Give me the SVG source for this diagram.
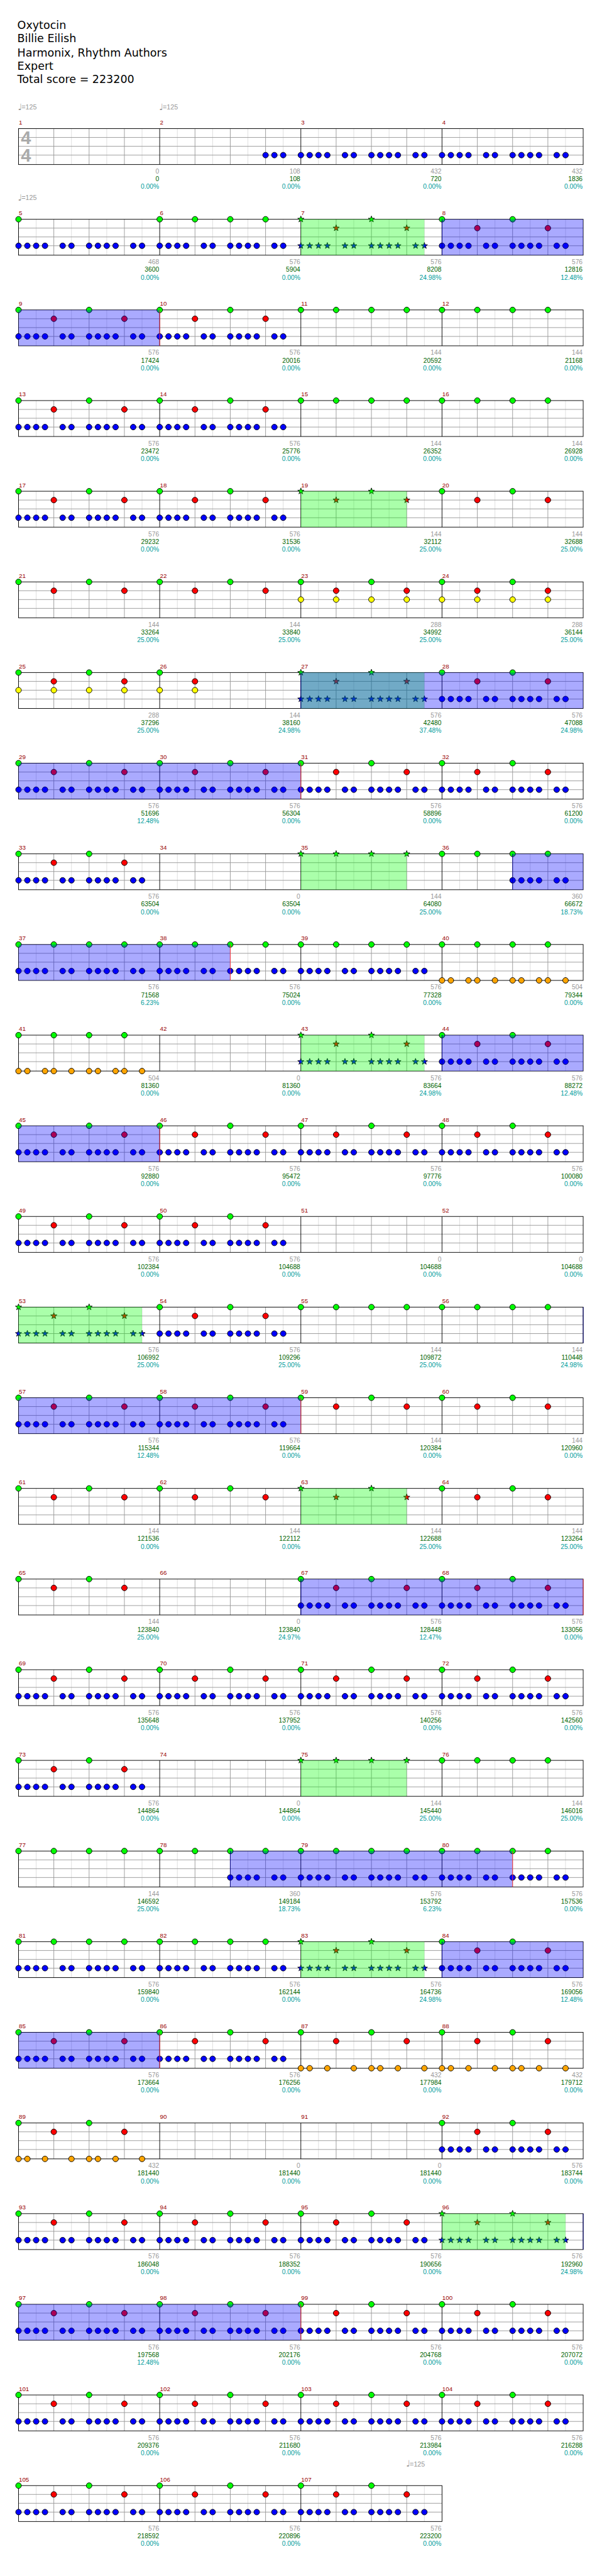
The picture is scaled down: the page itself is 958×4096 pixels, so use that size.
<svg xmlns="http://www.w3.org/2000/svg" width="958" height="4096" viewBox="0 0 958 4096">
<style>
.t{font-family:"DejaVu Sans",sans-serif;font-size:18.7px;fill:#000}
.mn{font-family:"Liberation Sans",Arial,sans-serif;font-size:10.5px;fill:#990000}
.l text{font-family:"Liberation Sans",Arial,sans-serif;font-size:11px;text-anchor:end}
.lg{fill:#999}.lc{fill:#006400}.lp{fill:#009c9c}
.tp{font-family:"Liberation Sans",Arial,sans-serif;font-size:11.5px;fill:#999}
.tn{font-family:"DejaVu Sans",sans-serif;font-size:15px;fill:#999}
.ts{font-family:"Liberation Sans",Arial,sans-serif;font-size:31px;font-weight:bold;fill:#aaa}
.sp{fill:#00ff00;fill-opacity:.333}
.so{fill:#0000ff;fill-opacity:.333}
.ms{stroke:#000080;fill:none}.me{stroke:#ff3030;fill:none}
</style>
<defs>
<circle id="n" r="4.8" stroke="#000" stroke-width="1"/>
<path id="s" stroke="#000" stroke-width=".9" d="M0-5.6L1.32-1.81 5.33-1.73 2.13.69 3.29 4.53 0 2.24-3.29 4.53-2.13.69-5.33-1.73-1.32-1.81Z"/>
<g id="st4" fill="none">
<path stroke="#ddd" d="M30 0v61M90 0v61M150 0v61M210 0v61M270 0v61M330 0v61M390 0v61M450 0v61M510 0v61M570 0v61M630 0v61M690 0v61M750 0v61M810 0v61M870 0v61M930 0v61"/>
<path stroke="#999" d="M0 15H960M0 30H960M0 45H960M60 0v61M120 0v61M180 0v61M300 0v61M360 0v61M420 0v61M540 0v61M600 0v61M660 0v61M780 0v61M840 0v61M900 0v61"/>
<path stroke="#000" d="M240 0v61M480 0v61M720 0v61"/>
<rect width="960" height="61" stroke="#000"/>
</g>
<g id="st3" fill="none">
<path stroke="#ddd" d="M30 0v61M90 0v61M150 0v61M210 0v61M270 0v61M330 0v61M390 0v61M450 0v61M510 0v61M570 0v61M630 0v61M690 0v61"/>
<path stroke="#999" d="M0 15H720M0 30H720M0 45H720M60 0v61M120 0v61M180 0v61M300 0v61M360 0v61M420 0v61M540 0v61M600 0v61M660 0v61"/>
<path stroke="#000" d="M240 0v61M480 0v61"/>
<rect width="720" height="61" stroke="#000"/>
</g>
<g id="bp" fill="#00f"><use href="#n" y="45"/><use href="#n" x="15" y="45"/><use href="#n" x="30" y="45"/><use href="#n" x="45" y="45"/><use href="#n" x="75" y="45"/><use href="#n" x="90" y="45"/><use href="#n" x="120" y="45"/><use href="#n" x="135" y="45"/><use href="#n" x="150" y="45"/><use href="#n" x="165" y="45"/><use href="#n" x="195" y="45"/><use href="#n" x="210" y="45"/></g>
<g id="b3" fill="#00f"><use href="#n" x="180" y="45"/><use href="#n" x="195" y="45"/><use href="#n" x="210" y="45"/></g>
<g id="bh" fill="#00f"><use href="#n" x="120" y="45"/><use href="#n" x="135" y="45"/><use href="#n" x="150" y="45"/><use href="#n" x="165" y="45"/><use href="#n" x="195" y="45"/><use href="#n" x="210" y="45"/></g>
<g id="gr"><g fill="#0f0"><use href="#n"/><use href="#n" x="120"/></g><g fill="#f00"><use href="#n" x="60" y="15"/><use href="#n" x="180" y="15"/></g></g>
<g id="gq" fill="#0f0"><use href="#n"/><use href="#n" x="60"/><use href="#n" x="120"/><use href="#n" x="180"/></g>
<g id="yq" fill="#ff0"><use href="#n" y="30"/><use href="#n" x="60" y="30"/><use href="#n" x="120" y="30"/><use href="#n" x="180" y="30"/></g>
<g id="o1" fill="#ffa500"><use href="#n" y="61"/><use href="#n" x="15" y="61"/><use href="#n" x="45" y="61"/><use href="#n" x="60" y="61"/><use href="#n" x="90" y="61"/><use href="#n" x="120" y="61"/><use href="#n" x="135" y="61"/><use href="#n" x="165" y="61"/><use href="#n" x="180" y="61"/><use href="#n" x="210" y="61"/></g>
<g id="o2" fill="#ffa500"><use href="#n" y="61"/><use href="#n" x="15" y="61"/><use href="#n" x="45" y="61"/><use href="#n" x="90" y="61"/><use href="#n" x="120" y="61"/><use href="#n" x="135" y="61"/><use href="#n" x="165" y="61"/><use href="#n" x="210" y="61"/></g>
<g id="sbp" fill="#00f"><use href="#s" y="45"/><use href="#s" x="15" y="45"/><use href="#s" x="30" y="45"/><use href="#s" x="45" y="45"/><use href="#s" x="75" y="45"/><use href="#s" x="90" y="45"/><use href="#s" x="120" y="45"/><use href="#s" x="135" y="45"/><use href="#s" x="150" y="45"/><use href="#s" x="165" y="45"/><use href="#s" x="195" y="45"/><use href="#s" x="210" y="45"/></g>
<g id="sgr"><g fill="#0f0"><use href="#s"/><use href="#s" x="120"/></g><g fill="#f00"><use href="#s" x="60" y="15"/><use href="#s" x="180" y="15"/></g></g>
<g id="sgq" fill="#0f0"><use href="#s"/><use href="#s" x="60"/><use href="#s" x="120"/><use href="#s" x="180"/></g>
</defs>
<rect width="958" height="4096" fill="#fff"/>
<g transform="scale(0.936)">
<g id="header">
<text class="t" x="29.5" y="49.3">Oxytocin</text>
<text class="t" x="29.5" y="72">Billie Eilish</text>
<text class="t" x="29.5" y="95.7">Harmonix, Rhythm Authors</text>
<text class="t" x="29.5" y="118.3">Expert</text>
<text class="t" x="29.5" y="141.3">Total score = 223200</text>
</g>

<g id="row1" transform="translate(31.5 218.5)">
<use href="#st4"/>
<text class="ts" x="4" y="26.5">4</text><text class="ts" x="4" y="56.5">4</text>
<use href="#b3" x="240"/><use href="#bp" x="480"/><use href="#bp" x="720"/>
<text class="tn" x="-1" y="-32">♩</text><text class="tp" x="5.2" y="-32.5">=125</text>
<text class="tn" x="239" y="-32">♩</text><text class="tp" x="245.2" y="-32.5">=125</text>
<text class="mn" x="0.5" y="-7">1</text><text class="mn" x="240.5" y="-7">2</text><text class="mn" x="480.5" y="-7">3</text><text class="mn" x="720.5" y="-7">4</text>
<g class="l">
<text class="lg" x="239" y="76.5">0</text><text class="lc" x="239" y="89.5">0</text><text class="lp" x="239" y="102.5">0.00%</text>
<text class="lg" x="479" y="76.5">108</text><text class="lc" x="479" y="89.5">108</text><text class="lp" x="479" y="102.5">0.00%</text>
<text class="lg" x="719" y="76.5">432</text><text class="lc" x="719" y="89.5">720</text><text class="lp" x="719" y="102.5">0.00%</text>
<text class="lg" x="959" y="76.5">432</text><text class="lc" x="959" y="89.5">1836</text><text class="lp" x="959" y="102.5">0.00%</text>
</g>
</g>

<g id="row2" transform="translate(31.5 372.5)">
<use href="#st4"/>
<use href="#n" fill="#0f0"/><use href="#bp"/>
<use href="#gq" x="240"/><use href="#bp" x="240"/>
<use href="#sgr" x="480"/><use href="#sbp" x="480"/>
<use href="#gr" x="720"/><use href="#bp" x="720"/>
<rect class="sp" x="480" width="210" height="61"/>
<rect class="so" x="720" width="240" height="61"/>
<path class="ms" d="M720 0v61"/>
<text class="tn" x="-1" y="-32">♩</text><text class="tp" x="5.2" y="-32.5">=125</text>
<text class="mn" x="0.5" y="-7">5</text><text class="mn" x="240.5" y="-7">6</text><text class="mn" x="480.5" y="-7">7</text><text class="mn" x="720.5" y="-7">8</text>
<g class="l">
<text class="lg" x="239" y="76.5">468</text><text class="lc" x="239" y="89.5">3600</text><text class="lp" x="239" y="102.5">0.00%</text>
<text class="lg" x="479" y="76.5">576</text><text class="lc" x="479" y="89.5">5904</text><text class="lp" x="479" y="102.5">0.00%</text>
<text class="lg" x="719" y="76.5">576</text><text class="lc" x="719" y="89.5">8208</text><text class="lp" x="719" y="102.5">24.98%</text>
<text class="lg" x="959" y="76.5">576</text><text class="lc" x="959" y="89.5">12816</text><text class="lp" x="959" y="102.5">12.48%</text>
</g>
</g>

<g id="row3" transform="translate(31.5 526.5)">
<use href="#st4"/>
<use href="#gr"/><use href="#bp"/>
<use href="#gr" x="240"/><use href="#bp" x="240"/>
<use href="#gq" x="480"/><use href="#gq" x="720"/>
<rect class="so" width="240" height="61"/>
<path class="me" d="M240 0v61"/>
<text class="mn" x="0.5" y="-7">9</text><text class="mn" x="240.5" y="-7">10</text><text class="mn" x="480.5" y="-7">11</text><text class="mn" x="720.5" y="-7">12</text>
<g class="l">
<text class="lg" x="239" y="76.5">576</text><text class="lc" x="239" y="89.5">17424</text><text class="lp" x="239" y="102.5">0.00%</text>
<text class="lg" x="479" y="76.5">576</text><text class="lc" x="479" y="89.5">20016</text><text class="lp" x="479" y="102.5">0.00%</text>
<text class="lg" x="719" y="76.5">144</text><text class="lc" x="719" y="89.5">20592</text><text class="lp" x="719" y="102.5">0.00%</text>
<text class="lg" x="959" y="76.5">144</text><text class="lc" x="959" y="89.5">21168</text><text class="lp" x="959" y="102.5">0.00%</text>
</g>
</g>

<g id="row4" transform="translate(31.5 680.5)">
<use href="#st4"/>
<use href="#gr"/><use href="#bp"/>
<use href="#gr" x="240"/><use href="#bp" x="240"/>
<use href="#gq" x="480"/><use href="#gq" x="720"/>
<text class="mn" x="0.5" y="-7">13</text><text class="mn" x="240.5" y="-7">14</text><text class="mn" x="480.5" y="-7">15</text><text class="mn" x="720.5" y="-7">16</text>
<g class="l">
<text class="lg" x="239" y="76.5">576</text><text class="lc" x="239" y="89.5">23472</text><text class="lp" x="239" y="102.5">0.00%</text>
<text class="lg" x="479" y="76.5">576</text><text class="lc" x="479" y="89.5">25776</text><text class="lp" x="479" y="102.5">0.00%</text>
<text class="lg" x="719" y="76.5">144</text><text class="lc" x="719" y="89.5">26352</text><text class="lp" x="719" y="102.5">0.00%</text>
<text class="lg" x="959" y="76.5">144</text><text class="lc" x="959" y="89.5">26928</text><text class="lp" x="959" y="102.5">0.00%</text>
</g>
</g>

<g id="row5" transform="translate(31.5 834.5)">
<use href="#st4"/>
<use href="#gr"/><use href="#bp"/>
<use href="#gr" x="240"/><use href="#bp" x="240"/>
<use href="#sgr" x="480"/>
<use href="#gr" x="720"/>
<rect class="sp" x="480" width="180" height="61"/>
<text class="mn" x="0.5" y="-7">17</text><text class="mn" x="240.5" y="-7">18</text><text class="mn" x="480.5" y="-7">19</text><text class="mn" x="720.5" y="-7">20</text>
<g class="l">
<text class="lg" x="239" y="76.5">576</text><text class="lc" x="239" y="89.5">29232</text><text class="lp" x="239" y="102.5">0.00%</text>
<text class="lg" x="479" y="76.5">576</text><text class="lc" x="479" y="89.5">31536</text><text class="lp" x="479" y="102.5">0.00%</text>
<text class="lg" x="719" y="76.5">144</text><text class="lc" x="719" y="89.5">32112</text><text class="lp" x="719" y="102.5">25.00%</text>
<text class="lg" x="959" y="76.5">144</text><text class="lc" x="959" y="89.5">32688</text><text class="lp" x="959" y="102.5">25.00%</text>
</g>
</g>

<g id="row6" transform="translate(31.5 988.5)">
<use href="#st4"/>
<use href="#gr"/><use href="#gr" x="240"/>
<use href="#gr" x="480"/><use href="#yq" x="480"/>
<use href="#gr" x="720"/><use href="#yq" x="720"/>
<text class="mn" x="0.5" y="-7">21</text><text class="mn" x="240.5" y="-7">22</text><text class="mn" x="480.5" y="-7">23</text><text class="mn" x="720.5" y="-7">24</text>
<g class="l">
<text class="lg" x="239" y="76.5">144</text><text class="lc" x="239" y="89.5">33264</text><text class="lp" x="239" y="102.5">25.00%</text>
<text class="lg" x="479" y="76.5">144</text><text class="lc" x="479" y="89.5">33840</text><text class="lp" x="479" y="102.5">25.00%</text>
<text class="lg" x="719" y="76.5">288</text><text class="lc" x="719" y="89.5">34992</text><text class="lp" x="719" y="102.5">25.00%</text>
<text class="lg" x="959" y="76.5">288</text><text class="lc" x="959" y="89.5">36144</text><text class="lp" x="959" y="102.5">25.00%</text>
</g>
</g>

<g id="row7" transform="translate(31.5 1142.5)">
<use href="#st4"/>
<use href="#gr"/><use href="#yq"/>
<use href="#n" x="240" fill="#0f0"/><use href="#n" x="300" y="15" fill="#f00"/><use href="#n" x="240" y="30" fill="#ff0"/><use href="#n" x="300" y="30" fill="#ff0"/>
<use href="#sgr" x="480"/><use href="#sbp" x="480"/>
<use href="#gr" x="720"/><use href="#bp" x="720"/>
<rect class="sp" x="480" width="210" height="61"/>
<rect class="so" x="480" width="480" height="61"/>
<path class="ms" d="M480 0v61"/>
<text class="mn" x="0.5" y="-7">25</text><text class="mn" x="240.5" y="-7">26</text><text class="mn" x="480.5" y="-7">27</text><text class="mn" x="720.5" y="-7">28</text>
<g class="l">
<text class="lg" x="239" y="76.5">288</text><text class="lc" x="239" y="89.5">37296</text><text class="lp" x="239" y="102.5">25.00%</text>
<text class="lg" x="479" y="76.5">144</text><text class="lc" x="479" y="89.5">38160</text><text class="lp" x="479" y="102.5">24.98%</text>
<text class="lg" x="719" y="76.5">576</text><text class="lc" x="719" y="89.5">42480</text><text class="lp" x="719" y="102.5">37.48%</text>
<text class="lg" x="959" y="76.5">576</text><text class="lc" x="959" y="89.5">47088</text><text class="lp" x="959" y="102.5">24.98%</text>
</g>
</g>

<g id="row8" transform="translate(31.5 1296.5)">
<use href="#st4"/>
<use href="#gr"/><use href="#bp"/>
<use href="#gr" x="240"/><use href="#bp" x="240"/>
<use href="#gr" x="480"/><use href="#bp" x="480"/>
<use href="#gr" x="720"/><use href="#bp" x="720"/>
<rect class="so" width="480" height="61"/>
<path class="me" d="M480 0v61"/>
<text class="mn" x="0.5" y="-7">29</text><text class="mn" x="240.5" y="-7">30</text><text class="mn" x="480.5" y="-7">31</text><text class="mn" x="720.5" y="-7">32</text>
<g class="l">
<text class="lg" x="239" y="76.5">576</text><text class="lc" x="239" y="89.5">51696</text><text class="lp" x="239" y="102.5">12.48%</text>
<text class="lg" x="479" y="76.5">576</text><text class="lc" x="479" y="89.5">56304</text><text class="lp" x="479" y="102.5">0.00%</text>
<text class="lg" x="719" y="76.5">576</text><text class="lc" x="719" y="89.5">58896</text><text class="lp" x="719" y="102.5">0.00%</text>
<text class="lg" x="959" y="76.5">576</text><text class="lc" x="959" y="89.5">61200</text><text class="lp" x="959" y="102.5">0.00%</text>
</g>
</g>

<g id="row9" transform="translate(31.5 1450.5)">
<use href="#st4"/>
<use href="#gr"/><use href="#bp"/>
<use href="#sgq" x="480"/>
<use href="#gq" x="720"/><use href="#bh" x="720"/>
<rect class="sp" x="480" width="180" height="61"/>
<rect class="so" x="840" width="120" height="61"/>
<path class="ms" d="M840 0v61"/>
<text class="mn" x="0.5" y="-7">33</text><text class="mn" x="240.5" y="-7">34</text><text class="mn" x="480.5" y="-7">35</text><text class="mn" x="720.5" y="-7">36</text>
<g class="l">
<text class="lg" x="239" y="76.5">576</text><text class="lc" x="239" y="89.5">63504</text><text class="lp" x="239" y="102.5">0.00%</text>
<text class="lg" x="479" y="76.5">0</text><text class="lc" x="479" y="89.5">63504</text><text class="lp" x="479" y="102.5">0.00%</text>
<text class="lg" x="719" y="76.5">144</text><text class="lc" x="719" y="89.5">64080</text><text class="lp" x="719" y="102.5">25.00%</text>
<text class="lg" x="959" y="76.5">360</text><text class="lc" x="959" y="89.5">66672</text><text class="lp" x="959" y="102.5">18.73%</text>
</g>
</g>

<g id="row10" transform="translate(31.5 1604.5)">
<use href="#st4"/>
<use href="#gq"/><use href="#bp"/>
<use href="#gq" x="240"/><use href="#bp" x="240"/>
<use href="#gq" x="480"/><use href="#bp" x="480"/>
<use href="#gq" x="720"/><use href="#o1" x="720"/>
<rect class="so" width="360" height="61"/>
<path class="me" d="M360 0v61"/>
<text class="mn" x="0.5" y="-7">37</text><text class="mn" x="240.5" y="-7">38</text><text class="mn" x="480.5" y="-7">39</text><text class="mn" x="720.5" y="-7">40</text>
<g class="l">
<text class="lg" x="239" y="76.5">576</text><text class="lc" x="239" y="89.5">71568</text><text class="lp" x="239" y="102.5">6.23%</text>
<text class="lg" x="479" y="76.5">576</text><text class="lc" x="479" y="89.5">75024</text><text class="lp" x="479" y="102.5">0.00%</text>
<text class="lg" x="719" y="76.5">576</text><text class="lc" x="719" y="89.5">77328</text><text class="lp" x="719" y="102.5">0.00%</text>
<text class="lg" x="959" y="76.5">504</text><text class="lc" x="959" y="89.5">79344</text><text class="lp" x="959" y="102.5">0.00%</text>
</g>
</g>

<g id="row11" transform="translate(31.5 1758.5)">
<use href="#st4"/>
<use href="#gq"/><use href="#o1"/>
<use href="#sgr" x="480"/><use href="#sbp" x="480"/>
<use href="#gr" x="720"/><use href="#bp" x="720"/>
<rect class="sp" x="480" width="210" height="61"/>
<rect class="so" x="720" width="240" height="61"/>
<path class="ms" d="M720 0v61"/>
<text class="mn" x="0.5" y="-7">41</text><text class="mn" x="240.5" y="-7">42</text><text class="mn" x="480.5" y="-7">43</text><text class="mn" x="720.5" y="-7">44</text>
<g class="l">
<text class="lg" x="239" y="76.5">504</text><text class="lc" x="239" y="89.5">81360</text><text class="lp" x="239" y="102.5">0.00%</text>
<text class="lg" x="479" y="76.5">0</text><text class="lc" x="479" y="89.5">81360</text><text class="lp" x="479" y="102.5">0.00%</text>
<text class="lg" x="719" y="76.5">576</text><text class="lc" x="719" y="89.5">83664</text><text class="lp" x="719" y="102.5">24.98%</text>
<text class="lg" x="959" y="76.5">576</text><text class="lc" x="959" y="89.5">88272</text><text class="lp" x="959" y="102.5">12.48%</text>
</g>
</g>

<g id="row12" transform="translate(31.5 1912.5)">
<use href="#st4"/>
<use href="#gr"/><use href="#bp"/>
<use href="#gr" x="240"/><use href="#bp" x="240"/>
<use href="#gr" x="480"/><use href="#bp" x="480"/>
<use href="#gr" x="720"/><use href="#bp" x="720"/>
<rect class="so" width="240" height="61"/>
<path class="me" d="M240 0v61"/>
<text class="mn" x="0.5" y="-7">45</text><text class="mn" x="240.5" y="-7">46</text><text class="mn" x="480.5" y="-7">47</text><text class="mn" x="720.5" y="-7">48</text>
<g class="l">
<text class="lg" x="239" y="76.5">576</text><text class="lc" x="239" y="89.5">92880</text><text class="lp" x="239" y="102.5">0.00%</text>
<text class="lg" x="479" y="76.5">576</text><text class="lc" x="479" y="89.5">95472</text><text class="lp" x="479" y="102.5">0.00%</text>
<text class="lg" x="719" y="76.5">576</text><text class="lc" x="719" y="89.5">97776</text><text class="lp" x="719" y="102.5">0.00%</text>
<text class="lg" x="959" y="76.5">576</text><text class="lc" x="959" y="89.5">100080</text><text class="lp" x="959" y="102.5">0.00%</text>
</g>
</g>

<g id="row13" transform="translate(31.5 2066.5)">
<use href="#st4"/>
<use href="#gr"/><use href="#bp"/>
<use href="#gr" x="240"/><use href="#bp" x="240"/>
<text class="mn" x="0.5" y="-7">49</text><text class="mn" x="240.5" y="-7">50</text><text class="mn" x="480.5" y="-7">51</text><text class="mn" x="720.5" y="-7">52</text>
<g class="l">
<text class="lg" x="239" y="76.5">576</text><text class="lc" x="239" y="89.5">102384</text><text class="lp" x="239" y="102.5">0.00%</text>
<text class="lg" x="479" y="76.5">576</text><text class="lc" x="479" y="89.5">104688</text><text class="lp" x="479" y="102.5">0.00%</text>
<text class="lg" x="719" y="76.5">0</text><text class="lc" x="719" y="89.5">104688</text><text class="lp" x="719" y="102.5">0.00%</text>
<text class="lg" x="959" y="76.5">0</text><text class="lc" x="959" y="89.5">104688</text><text class="lp" x="959" y="102.5">0.00%</text>
</g>
</g>

<g id="row14" transform="translate(31.5 2220.5)">
<use href="#st4"/>
<use href="#sgr"/><use href="#sbp"/>
<use href="#gr" x="240"/><use href="#bp" x="240"/>
<use href="#gq" x="480"/><use href="#gq" x="720"/>
<rect class="sp" width="210" height="61"/>
<path class="ms" d="M960 0v61"/>
<text class="mn" x="0.5" y="-7">53</text><text class="mn" x="240.5" y="-7">54</text><text class="mn" x="480.5" y="-7">55</text><text class="mn" x="720.5" y="-7">56</text>
<g class="l">
<text class="lg" x="239" y="76.5">576</text><text class="lc" x="239" y="89.5">106992</text><text class="lp" x="239" y="102.5">25.00%</text>
<text class="lg" x="479" y="76.5">576</text><text class="lc" x="479" y="89.5">109296</text><text class="lp" x="479" y="102.5">25.00%</text>
<text class="lg" x="719" y="76.5">144</text><text class="lc" x="719" y="89.5">109872</text><text class="lp" x="719" y="102.5">25.00%</text>
<text class="lg" x="959" y="76.5">144</text><text class="lc" x="959" y="89.5">110448</text><text class="lp" x="959" y="102.5">24.98%</text>
</g>
</g>

<g id="row15" transform="translate(31.5 2374.5)">
<use href="#st4"/>
<use href="#gr"/><use href="#bp"/>
<use href="#gr" x="240"/><use href="#bp" x="240"/>
<use href="#gr" x="480"/><use href="#gr" x="720"/>
<rect class="so" width="480" height="61"/>
<path class="me" d="M480 0v61"/>
<text class="mn" x="0.5" y="-7">57</text><text class="mn" x="240.5" y="-7">58</text><text class="mn" x="480.5" y="-7">59</text><text class="mn" x="720.5" y="-7">60</text>
<g class="l">
<text class="lg" x="239" y="76.5">576</text><text class="lc" x="239" y="89.5">115344</text><text class="lp" x="239" y="102.5">12.48%</text>
<text class="lg" x="479" y="76.5">576</text><text class="lc" x="479" y="89.5">119664</text><text class="lp" x="479" y="102.5">0.00%</text>
<text class="lg" x="719" y="76.5">144</text><text class="lc" x="719" y="89.5">120384</text><text class="lp" x="719" y="102.5">0.00%</text>
<text class="lg" x="959" y="76.5">144</text><text class="lc" x="959" y="89.5">120960</text><text class="lp" x="959" y="102.5">0.00%</text>
</g>
</g>

<g id="row16" transform="translate(31.5 2528.5)">
<use href="#st4"/>
<use href="#gr"/><use href="#gr" x="240"/>
<use href="#sgr" x="480"/><use href="#gr" x="720"/>
<rect class="sp" x="480" width="180" height="61"/>
<text class="mn" x="0.5" y="-7">61</text><text class="mn" x="240.5" y="-7">62</text><text class="mn" x="480.5" y="-7">63</text><text class="mn" x="720.5" y="-7">64</text>
<g class="l">
<text class="lg" x="239" y="76.5">144</text><text class="lc" x="239" y="89.5">121536</text><text class="lp" x="239" y="102.5">0.00%</text>
<text class="lg" x="479" y="76.5">144</text><text class="lc" x="479" y="89.5">122112</text><text class="lp" x="479" y="102.5">0.00%</text>
<text class="lg" x="719" y="76.5">144</text><text class="lc" x="719" y="89.5">122688</text><text class="lp" x="719" y="102.5">25.00%</text>
<text class="lg" x="959" y="76.5">144</text><text class="lc" x="959" y="89.5">123264</text><text class="lp" x="959" y="102.5">25.00%</text>
</g>
</g>

<g id="row17" transform="translate(31.5 2682.5)">
<use href="#st4"/>
<use href="#gr"/>
<use href="#gr" x="480"/><use href="#bp" x="480"/>
<use href="#gr" x="720"/><use href="#bp" x="720"/>
<rect class="so" x="480" width="480" height="61"/>
<path class="ms" d="M480 0v61"/><path class="me" d="M960 0v61"/>
<text class="mn" x="0.5" y="-7">65</text><text class="mn" x="240.5" y="-7">66</text><text class="mn" x="480.5" y="-7">67</text><text class="mn" x="720.5" y="-7">68</text>
<g class="l">
<text class="lg" x="239" y="76.5">144</text><text class="lc" x="239" y="89.5">123840</text><text class="lp" x="239" y="102.5">25.00%</text>
<text class="lg" x="479" y="76.5">0</text><text class="lc" x="479" y="89.5">123840</text><text class="lp" x="479" y="102.5">24.97%</text>
<text class="lg" x="719" y="76.5">576</text><text class="lc" x="719" y="89.5">128448</text><text class="lp" x="719" y="102.5">12.47%</text>
<text class="lg" x="959" y="76.5">576</text><text class="lc" x="959" y="89.5">133056</text><text class="lp" x="959" y="102.5">0.00%</text>
</g>
</g>

<g id="row18" transform="translate(31.5 2836.5)">
<use href="#st4"/>
<use href="#gr"/><use href="#bp"/>
<use href="#gr" x="240"/><use href="#bp" x="240"/>
<use href="#gr" x="480"/><use href="#bp" x="480"/>
<use href="#gr" x="720"/><use href="#bp" x="720"/>
<text class="mn" x="0.5" y="-7">69</text><text class="mn" x="240.5" y="-7">70</text><text class="mn" x="480.5" y="-7">71</text><text class="mn" x="720.5" y="-7">72</text>
<g class="l">
<text class="lg" x="239" y="76.5">576</text><text class="lc" x="239" y="89.5">135648</text><text class="lp" x="239" y="102.5">0.00%</text>
<text class="lg" x="479" y="76.5">576</text><text class="lc" x="479" y="89.5">137952</text><text class="lp" x="479" y="102.5">0.00%</text>
<text class="lg" x="719" y="76.5">576</text><text class="lc" x="719" y="89.5">140256</text><text class="lp" x="719" y="102.5">0.00%</text>
<text class="lg" x="959" y="76.5">576</text><text class="lc" x="959" y="89.5">142560</text><text class="lp" x="959" y="102.5">0.00%</text>
</g>
</g>

<g id="row19" transform="translate(31.5 2990.5)">
<use href="#st4"/>
<use href="#gr"/><use href="#bp"/>
<use href="#sgq" x="480"/>
<use href="#gq" x="720"/>
<rect class="sp" x="480" width="180" height="61"/>
<text class="mn" x="0.5" y="-7">73</text><text class="mn" x="240.5" y="-7">74</text><text class="mn" x="480.5" y="-7">75</text><text class="mn" x="720.5" y="-7">76</text>
<g class="l">
<text class="lg" x="239" y="76.5">576</text><text class="lc" x="239" y="89.5">144864</text><text class="lp" x="239" y="102.5">0.00%</text>
<text class="lg" x="479" y="76.5">0</text><text class="lc" x="479" y="89.5">144864</text><text class="lp" x="479" y="102.5">0.00%</text>
<text class="lg" x="719" y="76.5">144</text><text class="lc" x="719" y="89.5">145440</text><text class="lp" x="719" y="102.5">25.00%</text>
<text class="lg" x="959" y="76.5">144</text><text class="lc" x="959" y="89.5">146016</text><text class="lp" x="959" y="102.5">25.00%</text>
</g>
</g>

<g id="row20" transform="translate(31.5 3144.5)">
<use href="#st4"/>
<use href="#gq"/>
<use href="#gq" x="240"/><use href="#bh" x="240"/>
<use href="#gq" x="480"/><use href="#bp" x="480"/>
<use href="#gq" x="720"/><use href="#bp" x="720"/>
<rect class="so" x="360" width="480" height="61"/>
<path class="ms" d="M360 0v61"/><path class="me" d="M840 0v61"/>
<text class="mn" x="0.5" y="-7">77</text><text class="mn" x="240.5" y="-7">78</text><text class="mn" x="480.5" y="-7">79</text><text class="mn" x="720.5" y="-7">80</text>
<g class="l">
<text class="lg" x="239" y="76.5">144</text><text class="lc" x="239" y="89.5">146592</text><text class="lp" x="239" y="102.5">25.00%</text>
<text class="lg" x="479" y="76.5">360</text><text class="lc" x="479" y="89.5">149184</text><text class="lp" x="479" y="102.5">18.73%</text>
<text class="lg" x="719" y="76.5">576</text><text class="lc" x="719" y="89.5">153792</text><text class="lp" x="719" y="102.5">6.23%</text>
<text class="lg" x="959" y="76.5">576</text><text class="lc" x="959" y="89.5">157536</text><text class="lp" x="959" y="102.5">0.00%</text>
</g>
</g>

<g id="row21" transform="translate(31.5 3298.5)">
<use href="#st4"/>
<use href="#gq"/><use href="#bp"/>
<use href="#gq" x="240"/><use href="#bp" x="240"/>
<use href="#sgr" x="480"/><use href="#sbp" x="480"/>
<use href="#gr" x="720"/><use href="#bp" x="720"/>
<rect class="sp" x="480" width="210" height="61"/>
<rect class="so" x="720" width="240" height="61"/>
<path class="ms" d="M720 0v61"/>
<text class="mn" x="0.5" y="-7">81</text><text class="mn" x="240.5" y="-7">82</text><text class="mn" x="480.5" y="-7">83</text><text class="mn" x="720.5" y="-7">84</text>
<g class="l">
<text class="lg" x="239" y="76.5">576</text><text class="lc" x="239" y="89.5">159840</text><text class="lp" x="239" y="102.5">0.00%</text>
<text class="lg" x="479" y="76.5">576</text><text class="lc" x="479" y="89.5">162144</text><text class="lp" x="479" y="102.5">0.00%</text>
<text class="lg" x="719" y="76.5">576</text><text class="lc" x="719" y="89.5">164736</text><text class="lp" x="719" y="102.5">24.98%</text>
<text class="lg" x="959" y="76.5">576</text><text class="lc" x="959" y="89.5">169056</text><text class="lp" x="959" y="102.5">12.48%</text>
</g>
</g>

<g id="row22" transform="translate(31.5 3452.5)">
<use href="#st4"/>
<use href="#gr"/><use href="#bp"/>
<use href="#gr" x="240"/><use href="#bp" x="240"/>
<use href="#gr" x="480"/><use href="#o2" x="480"/>
<use href="#gr" x="720"/><use href="#o2" x="720"/>
<rect class="so" width="240" height="61"/>
<path class="me" d="M240 0v61"/>
<text class="mn" x="0.5" y="-7">85</text><text class="mn" x="240.5" y="-7">86</text><text class="mn" x="480.5" y="-7">87</text><text class="mn" x="720.5" y="-7">88</text>
<g class="l">
<text class="lg" x="239" y="76.5">576</text><text class="lc" x="239" y="89.5">173664</text><text class="lp" x="239" y="102.5">0.00%</text>
<text class="lg" x="479" y="76.5">576</text><text class="lc" x="479" y="89.5">176256</text><text class="lp" x="479" y="102.5">0.00%</text>
<text class="lg" x="719" y="76.5">432</text><text class="lc" x="719" y="89.5">177984</text><text class="lp" x="719" y="102.5">0.00%</text>
<text class="lg" x="959" y="76.5">432</text><text class="lc" x="959" y="89.5">179712</text><text class="lp" x="959" y="102.5">0.00%</text>
</g>
</g>

<g id="row23" transform="translate(31.5 3606.5)">
<use href="#st4"/>
<use href="#gr"/><use href="#o2"/>
<use href="#gr" x="720"/><use href="#bp" x="720"/>
<text class="mn" x="0.5" y="-7">89</text><text class="mn" x="240.5" y="-7">90</text><text class="mn" x="480.5" y="-7">91</text><text class="mn" x="720.5" y="-7">92</text>
<g class="l">
<text class="lg" x="239" y="76.5">432</text><text class="lc" x="239" y="89.5">181440</text><text class="lp" x="239" y="102.5">0.00%</text>
<text class="lg" x="479" y="76.5">0</text><text class="lc" x="479" y="89.5">181440</text><text class="lp" x="479" y="102.5">0.00%</text>
<text class="lg" x="719" y="76.5">0</text><text class="lc" x="719" y="89.5">181440</text><text class="lp" x="719" y="102.5">0.00%</text>
<text class="lg" x="959" y="76.5">576</text><text class="lc" x="959" y="89.5">183744</text><text class="lp" x="959" y="102.5">0.00%</text>
</g>
</g>

<g id="row24" transform="translate(31.5 3760.5)">
<use href="#st4"/>
<use href="#gr"/><use href="#bp"/>
<use href="#gr" x="240"/><use href="#bp" x="240"/>
<use href="#gr" x="480"/><use href="#bp" x="480"/>
<use href="#sgr" x="720"/><use href="#sbp" x="720"/>
<rect class="sp" x="720" width="210" height="61"/>
<path class="ms" d="M960 0v61"/>
<text class="mn" x="0.5" y="-7">93</text><text class="mn" x="240.5" y="-7">94</text><text class="mn" x="480.5" y="-7">95</text><text class="mn" x="720.5" y="-7">96</text>
<g class="l">
<text class="lg" x="239" y="76.5">576</text><text class="lc" x="239" y="89.5">186048</text><text class="lp" x="239" y="102.5">0.00%</text>
<text class="lg" x="479" y="76.5">576</text><text class="lc" x="479" y="89.5">188352</text><text class="lp" x="479" y="102.5">0.00%</text>
<text class="lg" x="719" y="76.5">576</text><text class="lc" x="719" y="89.5">190656</text><text class="lp" x="719" y="102.5">0.00%</text>
<text class="lg" x="959" y="76.5">576</text><text class="lc" x="959" y="89.5">192960</text><text class="lp" x="959" y="102.5">24.98%</text>
</g>
</g>

<g id="row25" transform="translate(31.5 3914.5)">
<use href="#st4"/>
<use href="#gr"/><use href="#bp"/>
<use href="#gr" x="240"/><use href="#bp" x="240"/>
<use href="#gr" x="480"/><use href="#bp" x="480"/>
<use href="#gr" x="720"/><use href="#bp" x="720"/>
<rect class="so" width="480" height="61"/>
<path class="me" d="M480 0v61"/>
<text class="mn" x="0.5" y="-7">97</text><text class="mn" x="240.5" y="-7">98</text><text class="mn" x="480.5" y="-7">99</text><text class="mn" x="720.5" y="-7">100</text>
<g class="l">
<text class="lg" x="239" y="76.5">576</text><text class="lc" x="239" y="89.5">197568</text><text class="lp" x="239" y="102.5">12.48%</text>
<text class="lg" x="479" y="76.5">576</text><text class="lc" x="479" y="89.5">202176</text><text class="lp" x="479" y="102.5">0.00%</text>
<text class="lg" x="719" y="76.5">576</text><text class="lc" x="719" y="89.5">204768</text><text class="lp" x="719" y="102.5">0.00%</text>
<text class="lg" x="959" y="76.5">576</text><text class="lc" x="959" y="89.5">207072</text><text class="lp" x="959" y="102.5">0.00%</text>
</g>
</g>

<g id="row26" transform="translate(31.5 4068.5)">
<use href="#st4"/>
<use href="#gr"/><use href="#bp"/>
<use href="#gr" x="240"/><use href="#bp" x="240"/>
<use href="#gr" x="480"/><use href="#bp" x="480"/>
<use href="#gr" x="720"/><use href="#bp" x="720"/>
<text class="mn" x="0.5" y="-7">101</text><text class="mn" x="240.5" y="-7">102</text><text class="mn" x="480.5" y="-7">103</text><text class="mn" x="720.5" y="-7">104</text>
<g class="l">
<text class="lg" x="239" y="76.5">576</text><text class="lc" x="239" y="89.5">209376</text><text class="lp" x="239" y="102.5">0.00%</text>
<text class="lg" x="479" y="76.5">576</text><text class="lc" x="479" y="89.5">211680</text><text class="lp" x="479" y="102.5">0.00%</text>
<text class="lg" x="719" y="76.5">576</text><text class="lc" x="719" y="89.5">213984</text><text class="lp" x="719" y="102.5">0.00%</text>
<text class="lg" x="959" y="76.5">576</text><text class="lc" x="959" y="89.5">216288</text><text class="lp" x="959" y="102.5">0.00%</text>
</g>
</g>

<g id="row27" transform="translate(31.5 4222.5)">
<use href="#st3"/>
<use href="#gr"/><use href="#bp"/>
<use href="#gr" x="240"/><use href="#bp" x="240"/>
<use href="#gr" x="480"/><use href="#bp" x="480"/>
<text class="tn" x="659" y="-32">♩</text><text class="tp" x="665.2" y="-32.5">=125</text>
<text class="mn" x="0.5" y="-7">105</text><text class="mn" x="240.5" y="-7">106</text><text class="mn" x="480.5" y="-7">107</text>
<g class="l">
<text class="lg" x="239" y="76.5">576</text><text class="lc" x="239" y="89.5">218592</text><text class="lp" x="239" y="102.5">0.00%</text>
<text class="lg" x="479" y="76.5">576</text><text class="lc" x="479" y="89.5">220896</text><text class="lp" x="479" y="102.5">0.00%</text>
<text class="lg" x="719" y="76.5">576</text><text class="lc" x="719" y="89.5">223200</text><text class="lp" x="719" y="102.5">0.00%</text>
</g>
</g>
</g>
</svg>
